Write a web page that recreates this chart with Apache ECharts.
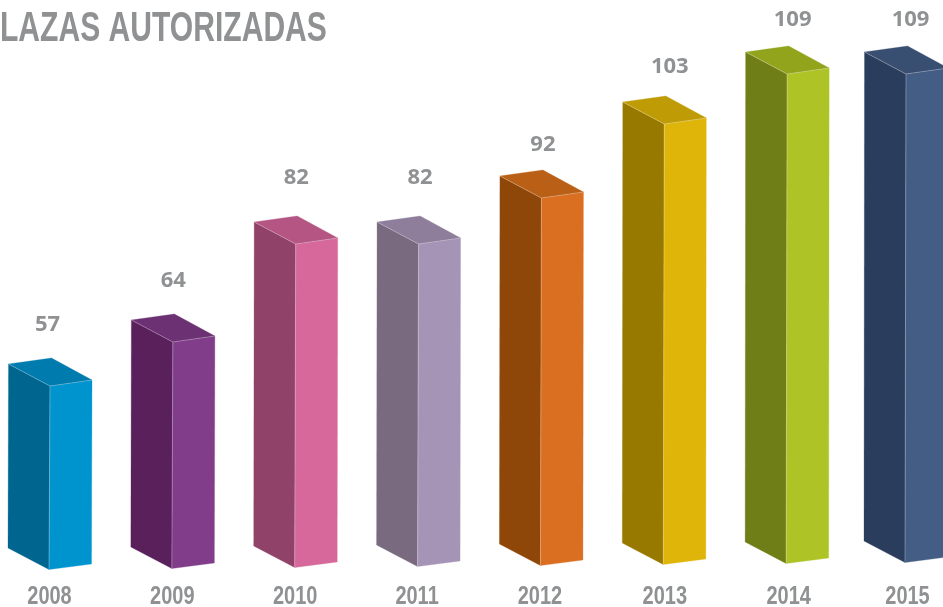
<!DOCTYPE html>
<html>
<head>
<meta charset="utf-8">
<style>
html, body { margin: 0; padding: 0; background: #fff; overflow: hidden; }
#main { width: 943px; height: 607px; }
</style>
<script src="https://cdn.jsdelivr.net/npm/echarts@6/dist/echarts.min.js"></script>
</head>
<body>
<div id="main"></div>
<script>
var titulo = 'LAZAS AUTORIZADAS';
var anios = ['2008', '2009', '2010', '2011', '2012', '2013', '2014', '2015'];
// numeros impresos sobre cada barra
var lazas = [57, 64, 82, 82, 92, 103, 109, 109];
// alto dibujado de cada barra: en el original no es proporcional a lazas
var alturas = [184, 227, 324, 323, 368, 441, 490, 489];
var coloresFrente = ['#0094cf', '#823d8a', '#d6689c', '#a694b6', '#da6f21', '#e0b50a', '#aec325', '#435d85'];
var coloresLado = ['#00658f', '#59205c', '#904269', '#796a80', '#8e4708', '#987900', '#6f7e16', '#2a3d5c'];
var coloresTapa = ['#007bad', '#6c3172', '#b55583', '#8e7d9b', '#ba5f16', '#bf9c05', '#92a41c', '#394f72'];

var gris = '#8f9193';
var borde = 'rgba(255,255,255,0.35)';
var fuenteAngosta = '"Liberation Sans", Arial, sans-serif';
// ajuste de cada numero respecto a la esquina superior izquierda
var ajusteNumero = [[39, -39], [42, -39], [42, -44], [43, -44], [43, -31], [47, -35], [47, -32], [46, -32]];
var ajusteAnio = [41, 41, 41, 40, 40, 42, 43, 43];

var myChart = echarts.init(document.getElementById('main'));

function cara (puntos, color) {
	return {
		type: 'polygon',
		shape: { points: puntos },
		style: { fill: color, stroke: color, lineWidth: 0.3 }
	};
}

function linea (a, b) {
	return {
		type: 'line',
		shape: { x1: a[0], y1: a[1], x2: b[0], y2: b[1] },
		style: { stroke: borde, lineWidth: 0.8 }
	};
}

function renderItem (params, api) {
	var i = api.value(0);
	var base = api.coord([i, 0]);
	var alto = api.coord([i, api.value(1)]);
	var x = base[0] - (i === 7 ? 4 : 0); // la ultima barra esta un poco mas cerca
	var yBase = base[1] - i; // la base sube un poco hacia la derecha
	var y = alto[1] - i;

	var tl = [x, y];
	var atras = [x + 43, y - 6];
	var frente = [x + 41.5, y + 22];
	var der = [x + 83.5, y + 16];
	var bl = [x - 0.5, yBase];
	var bf = [x + 40.5, yBase + 21.5];
	var br = [x + 83, yBase + 16];

	return {
		type: 'group',
		children: [
			cara([tl, frente, bf, bl], coloresLado[i]),
			cara([frente, der, br, bf], coloresFrente[i]),
			cara([tl, atras, der, frente], coloresTapa[i]),
			linea(tl, frente),
			linea(frente, der),
			linea(frente, bf),
			{
				type: 'text',
				x: x + ajusteNumero[i][0],
				y: y + ajusteNumero[i][1],
				style: {
					text: String(lazas[i]),
					font: 'bold 22px "Open Sans", sans-serif',
					fill: gris,
					align: 'center',
					verticalAlign: 'middle'
				}
			},
			{
				type: 'text',
				x: x + ajusteAnio[i],
				y: base[1] + 49,
				scaleX: 0.8,
				style: {
					text: anios[i],
					font: 'bold 25px ' + fuenteAngosta,
					fill: gris,
					align: 'center',
					verticalAlign: 'middle'
				}
			}
		]
	};
}

var datos = [];
alturas.map(function (item, index) {
	datos.push([index, item]);
});

var option = {
	animation: false,
	grid: { left: 8.5, right: 74.5, top: 48, bottom: 59 },
	xAxis: {
		type: 'category',
		data: anios,
		boundaryGap: false,
		show: false
	},
	yAxis: {
		type: 'value',
		min: 0,
		max: 500,
		show: false
	},
	graphic: [{
		type: 'text',
		x: 0,
		y: 29,
		scaleX: 0.716,
		style: {
			text: titulo,
			font: 'bold 42px ' + fuenteAngosta,
			fill: gris,
			align: 'left',
			verticalAlign: 'middle'
		}
	}],
	series: [{
		type: 'custom',
		renderItem: renderItem,
		clip: false,
		encode: { x: 0, y: 1 },
		data: datos
	}]
};

myChart.setOption(option);
</script>
</body>
</html>
